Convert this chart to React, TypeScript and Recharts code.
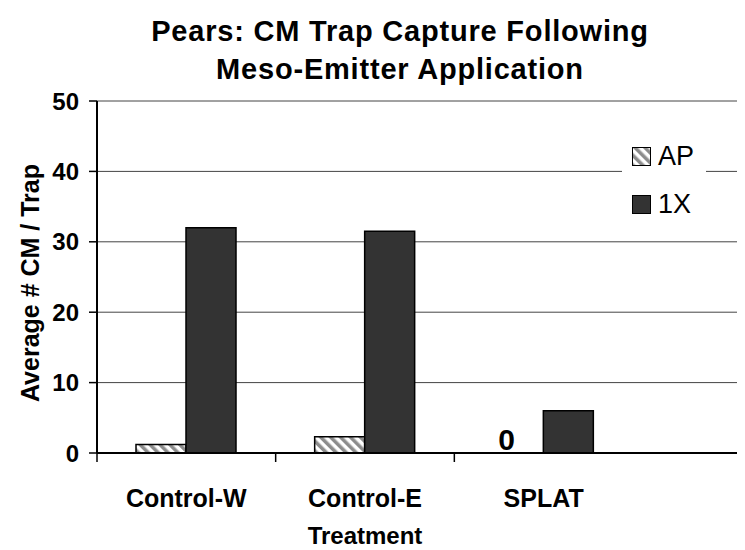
import React from 'react';
import { BarChart, Bar, XAxis, YAxis, CartesianGrid, Label, ReferenceDot } from 'recharts';

const treatments = ['Control-W', 'Control-E', 'SPLAT'];
const apValues = [1.2, 2.3, 0];
const oneXValues = [32, 31.5, 6];
const yTicks = [0, 10, 20, 30, 40, 50];

const data = treatments.map((name, i) => ({ name, ap: apValues[i], oneX: oneXValues[i] }));
// AP bars with no capture get a "0" printed where the bar would be
const zeroAp = data.filter((d) => d.ap === 0);

const FONT = '"Liberation Sans", Arial, Helvetica, sans-serif';
const RIGHT_PAD = 112;

function XTick(props: any) {
  const { x, y, payload } = props;
  const half = payload && payload.offset ? payload.offset : 89;
  return (
    <g>
      <line x1={x - half} y1={y} x2={x - half} y2={y + 9} stroke="#000" strokeWidth={1.5} />
      <text x={x} y={y + 54} textAnchor="middle" fontFamily={FONT} fontWeight="bold" fontSize={25} fill="#000">
        {payload.value}
      </text>
    </g>
  );
}

function ZeroText(props: any) {
  const vb = props.viewBox || {};
  return (
    <text x={vb.x - 37} y={vb.y - 3} textAnchor="middle" fontFamily={FONT} fontWeight="bold" fontSize={30} fill="#000">
      0
    </text>
  );
}

function XTitle(props: any) {
  const vb = props.viewBox || {};
  const cx = vb.x + (vb.width - RIGHT_PAD) / 2;
  return (
    <text x={cx} y={vb.y + 91} textAnchor="middle" fontFamily={FONT} fontWeight="bold" fontSize={24} fill="#000">
      Treatment
    </text>
  );
}

function YTitle(props: any) {
  const vb = props.viewBox || {};
  const cy = vb.y + vb.height / 2 + 6;
  return (
    <text
      x={22}
      y={cy}
      transform={`rotate(-90, 22, ${cy})`}
      textAnchor="middle"
      dominantBaseline="central"
      fontFamily={FONT}
      fontWeight="bold"
      fontSize={25}
      fill="#000"
    >
      Average # CM / Trap
    </text>
  );
}

function Swatch({ fill }: { fill: string }) {
  return (
    <svg width={19} height={19} style={{ display: 'block' }}>
      <defs>
        <pattern id="legHatch" patternUnits="userSpaceOnUse" width={7} height={7} patternTransform="rotate(-45)">
          <rect width={7} height={7} fill="#fff" />
          <rect width={3.5} height={7} fill="#8c8c8c" />
        </pattern>
      </defs>
      <rect x={0.5} y={0.5} width={18} height={18} fill={fill} stroke="#000" strokeWidth={1} />
    </svg>
  );
}

export default function App() {
  return (
    <div style={{ position: 'relative', width: 737, height: 542, overflow: 'hidden', background: '#fff' }}>
      <div
        style={{
          position: 'absolute',
          left: 42,
          top: 4,
          width: 700,
          textAlign: 'center',
          fontFamily: FONT,
          fontWeight: 'bold',
          fontSize: 29,
          lineHeight: '38px',
          letterSpacing: 0.8,
          color: '#000',
        }}
      >
        Pears: CM Trap Capture Following
        <br />
        Meso-Emitter Application
      </div>
      <BarChart
        width={737}
        height={542}
        data={data}
        margin={{ top: 93, right: 0, left: 0, bottom: 0 }}
        barCategoryGap="22%"
        barGap={0}
      >
        <defs>
          <pattern id="apHatch" patternUnits="userSpaceOnUse" width={7} height={7} patternTransform="rotate(-45)">
            <rect width={7} height={7} fill="#fff" />
            <rect width={3.5} height={7} fill="#8c8c8c" />
          </pattern>
        </defs>
        <CartesianGrid vertical={false} stroke="#444" strokeWidth={1} />
        <XAxis
          dataKey="name"
          height={97}
          padding={{ left: 0, right: RIGHT_PAD }}
          axisLine={{ stroke: '#000', strokeWidth: 2 }}
          tickLine={false}
          tickSize={0}
          tickMargin={0}
          tick={<XTick />}
          interval={0}
        >
          <Label content={<XTitle />} />
        </XAxis>
        <YAxis
          width={89}
          domain={[0, 50]}
          ticks={yTicks}
          interval={0}
          axisLine={{ stroke: '#000', strokeWidth: 2 }}
          tickLine={{ stroke: '#000', strokeWidth: 1.5 }}
          tickSize={8}
          tickMargin={10}
          tick={{ fontFamily: FONT, fontWeight: 'bold', fontSize: 24, fill: '#000' }}
        >
          <Label content={<YTitle />} />
        </YAxis>
        <Bar dataKey="ap" name="AP" barSize={50} fill="url(#apHatch)" stroke="#000" strokeWidth={1.5} isAnimationActive={false} />
        <Bar dataKey="oneX" name="1X" barSize={50} fill="#333333" stroke="#000" strokeWidth={1.5} isAnimationActive={false} />
        {zeroAp.map((d) => (
          <ReferenceDot key={d.name} x={d.name} y={d.ap} r={0} fill="none" stroke="none" label={<ZeroText />} />
        ))}
      </BarChart>
      <div
        style={{
          position: 'absolute',
          left: 614,
          top: 122,
          width: 84,
          height: 90,
          background: '#fff',
          fontFamily: FONT,
          fontSize: 27,
          color: '#000',
        }}
      >
        <div style={{ position: 'absolute', left: 10, top: 11, display: 'flex', alignItems: 'center', gap: 7 }}>
          <Swatch fill="url(#legHatch)" />
          <span style={{ lineHeight: '30px' }}>AP</span>
        </div>
        <div style={{ position: 'absolute', left: 10, top: 59, display: 'flex', alignItems: 'center', gap: 7 }}>
          <Swatch fill="#333333" />
          <span style={{ lineHeight: '30px' }}>1X</span>
        </div>
      </div>
    </div>
  );
}
